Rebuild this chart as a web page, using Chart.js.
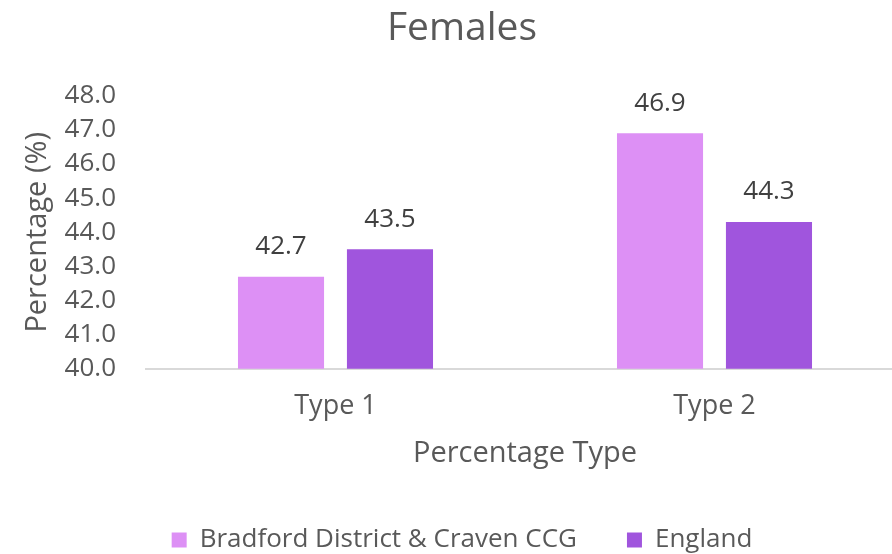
<!DOCTYPE html>
<html>
<head>
<meta charset="utf-8">
<script src="https://cdn.jsdelivr.net/npm/chart.js@4"></script>
<style>
    html, body { margin: 0; padding: 0; background: #fff; overflow: hidden; }
    /* a bit wider than the window: the source picture crops the plot at the right */
    #wrap { width: 904px; height: 554px; position: relative; }
</style>
</head>
<body>
<div id="wrap"><canvas id="chart"></canvas></div>
<script>
const categories = ['Type 1', 'Type 2'];
const bradfordValues = [42.7, 46.9];
const englandValues = [43.5, 44.3];
const seriesNames = ['Bradford District & Craven CCG', 'England'];

const textColor = '#595959';
const fontFamily = "'Open Sans', 'Noto Sans', sans-serif";

// draws the value above each bar
const barLabels = {
    id: 'barLabels',
    afterDatasetsDraw(chart) {
        const ctx = chart.ctx;
        ctx.save();
        ctx.fillStyle = '#404040';
        ctx.font = `26px ${fontFamily}`;
        ctx.textAlign = 'center';
        ctx.textBaseline = 'middle';
        chart.data.datasets.forEach((ds, i) => {
            chart.getDatasetMeta(i).data.forEach((bar, j) => {
                ctx.fillText(ds.data[j].toFixed(1), bar.x, bar.y - 30);
            });
        });
        ctx.restore();
    },
};

// legend padding is used for the gap between items; keep the box itself short
const legendHeight = 30;
const legendTopGap = 3;
const compactLegend = {
    id: 'compactLegend',
    afterInit(chart) {
        const legend = chart.legend;
        if (!legend) {
            return;
        }
        const fit = legend.fit;
        legend.fit = function () {
            fit.call(this);
            this.height = legendHeight;
        };
        const draw = legend.draw;
        legend.draw = function () {
            const top = this.top;
            this.top = top - this.options.labels.padding + legendTopGap;
            draw.call(this);
            this.top = top;
        };
    },
};

new Chart(document.getElementById('chart'), {
    type: 'bar',
    data: {
        labels: categories,
        datasets: [
            {
                label: seriesNames[0],
                data: bradfordValues,
                backgroundColor: '#dd90f5',
                barPercentage: 0.79,
                categoryPercentage: 0.575,
            },
            {
                label: seriesNames[1],
                data: englandValues,
                backgroundColor: '#a055dd',
                barPercentage: 0.79,
                categoryPercentage: 0.575,
            },
        ],
    },
    options: {
        responsive: true,
        maintainAspectRatio: false,
        animation: false,
        layout: { padding: { top: 4, right: 0, left: 20, bottom: 0 } },
        plugins: {
            title: {
                display: true,
                text: 'Females',
                color: textColor,
                font: { family: fontFamily, size: 39, weight: 'normal' },
                padding: { top: 1, bottom: 44 },
            },
            legend: {
                position: 'bottom',
                labels: {
                    color: textColor,
                    font: { family: fontFamily, size: 26 },
                    boxWidth: 15,
                    boxHeight: 15,
                    padding: 50,
                },
            },
            tooltip: { enabled: false },
        },
        scales: {
            x: {
                grid: { display: false, drawTicks: false },
                border: { color: '#d9d9d9', width: 2 },
                ticks: { color: textColor, font: { family: fontFamily, size: 27 }, padding: 21 },
                title: {
                    display: true,
                    text: 'Percentage Type',
                    color: textColor,
                    font: { family: fontFamily, size: 29 },
                    padding: { top: -7, bottom: 53 },
                },
            },
            y: {
                min: 40,
                max: 48,
                afterFit: (scale) => { scale.width = 126; },
                grid: { display: false, drawTicks: false },
                border: { display: false },
                ticks: {
                    stepSize: 1,
                    autoSkip: false,
                    color: textColor,
                    font: { family: fontFamily, size: 26 },
                    padding: 30,
                    callback: (v) => Number(v).toFixed(1),
                },
                title: {
                    display: true,
                    text: 'Percentage (%)',
                    color: textColor,
                    font: { family: fontFamily, size: 29 },
                    padding: { top: 0, bottom: 12 },
                },
            },
        },
    },
    plugins: [barLabels, compactLegend],
});
</script>
</body>
</html>
